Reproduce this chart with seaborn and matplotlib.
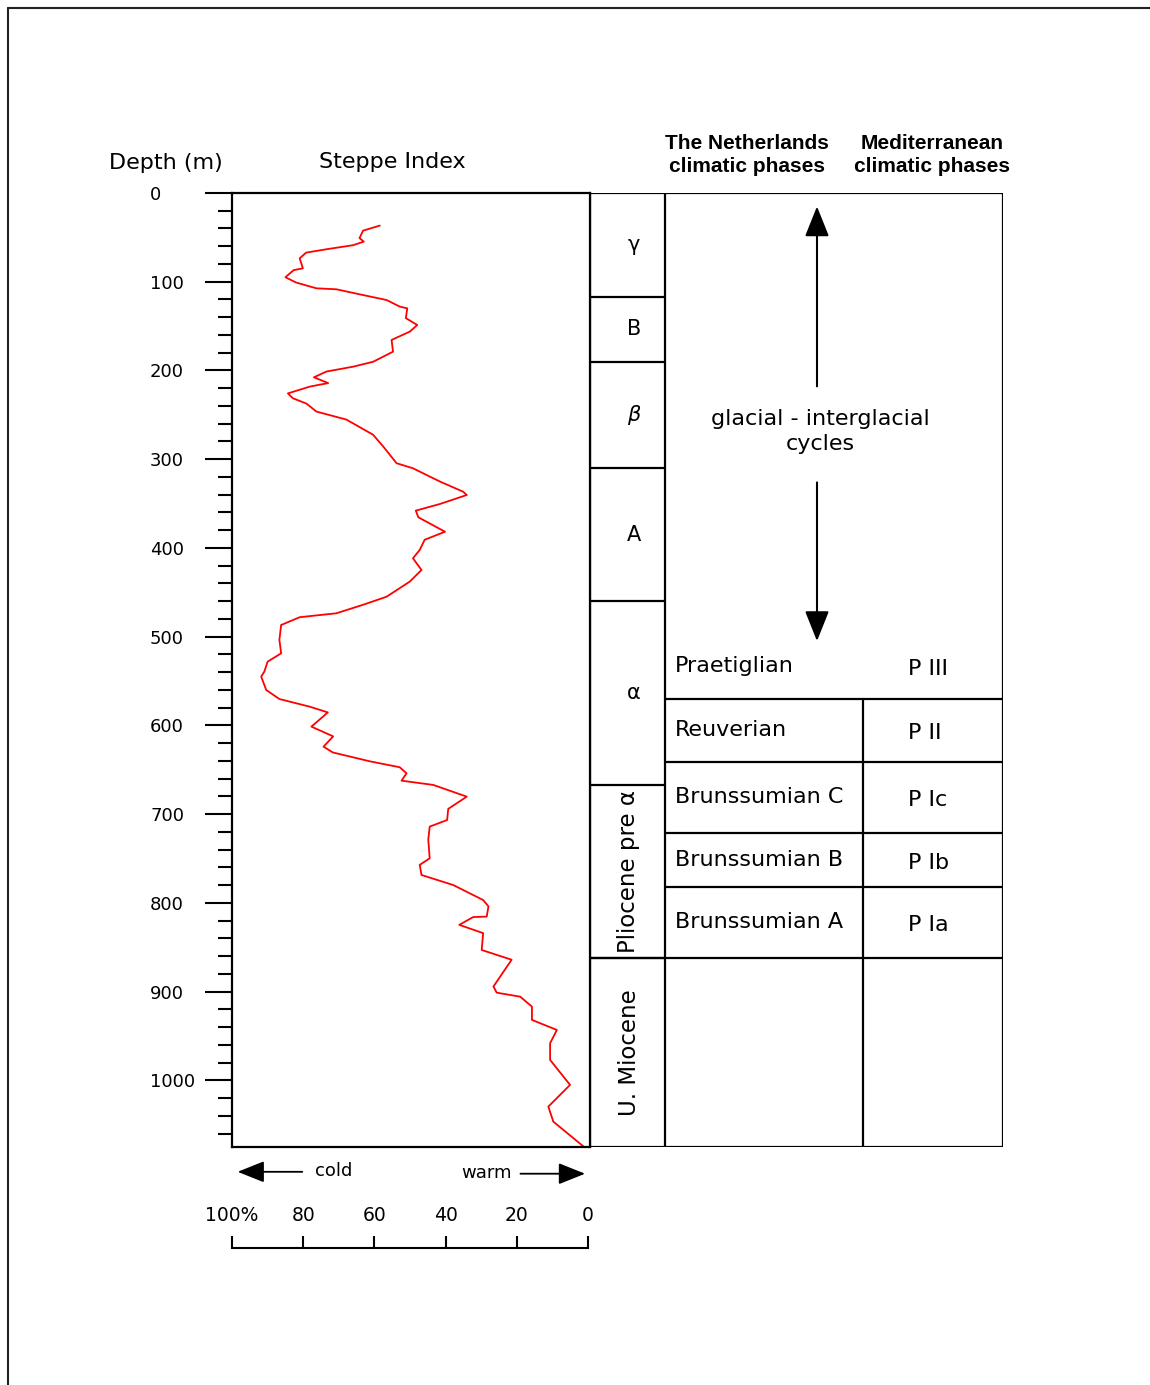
import matplotlib
matplotlib.use("Agg")
import matplotlib.pyplot as plt
from matplotlib.lines import Line2D
import seaborn as sns
import numpy as np

# steppe index (%) against depth (m)
steppe = [58.5, 63.2, 64.2, 63.0, 66.0, 73.5, 79.2, 81.0, 80.1, 82.7,
          85.0, 82.0, 76.3, 70.7, 63.2, 56.6, 52.9, 50.8, 51.2, 48.0,
          50.0, 55.2, 54.8, 60.4, 66.0, 73.5, 77.0, 73.0, 78.2, 84.3,
          82.9, 79.1, 76.3, 67.9, 60.4, 57.6, 53.8, 49.2, 41.6, 35.1,
          34.1, 41.6, 48.4, 47.7, 40.2, 45.9, 47.3, 49.2, 46.8, 50.1,
          56.6, 63.2, 70.7, 81.0, 86.2, 86.7, 86.2, 90.0, 90.9, 91.8,
          90.4, 86.7, 78.2, 73.1, 77.7, 71.6, 74.3, 71.7, 61.3, 52.9,
          51.0, 52.4, 43.5, 34.1, 39.3, 39.6, 44.5, 44.9, 44.5, 47.3,
          46.8, 37.9, 29.5, 28.0, 28.5, 32.3, 36.2, 29.5, 29.9, 21.5,
          26.6, 25.7, 19.1, 15.8, 15.8, 8.8, 10.7, 10.7, 5.1, 11.2,
          9.8, 1.3]
depth = [36.7, 42.4, 50.8, 54.8, 58.8, 63.4, 67.2, 73.6, 84.9, 86.9,
         94.9, 100.9, 107.4, 108.5, 115.0, 120.6, 128.0, 130.0, 141.0, 148.7,
         156.0, 165.6, 178.8, 190.2, 195.7, 201.2, 207.7, 214.2, 218.2, 225.8,
         231.3, 237.3, 246.3, 255.3, 272.4, 285.4, 304.5, 310.2, 325.2, 336.6,
         340.3, 350.4, 357.9, 365.4, 381.7, 390.7, 402.2, 411.6, 424.8, 437.9,
         454.9, 464.0, 473.6, 478.0, 486.8, 503.6, 518.7, 528.1, 539.1, 545.0,
         560.0, 570.2, 578.8, 585.3, 601.3, 612.3, 623.9, 630.4, 640.4, 647.1,
         653.9, 662.2, 667.0, 680.2, 694.0, 706.5, 714.0, 728.7, 749.7, 757.1,
         768.5, 779.8, 796.7, 803.9, 815.4, 815.9, 824.7, 834.0, 853.0, 864.0,
         894.1, 901.1, 905.6, 916.8, 931.8, 943.1, 958.1, 976.9, 1005.0, 1029.5,
         1046.4, 1074.5]

max_depth = 1075

# pollen zones (first column)
zones = ["γ", "B", "β", "A", "α", "Pliocene pre α", "U. Miocene"]
zone_bounds = [0, 117, 190, 310, 460, 667, 862, max_depth]

# climatic phases
nl_phases = ["Praetiglian", "Reuverian", "Brunssumian C", "Brunssumian B", "Brunssumian A"]
med_phases = ["P III", "P II", "P Ic", "P Ib", "P Ia"]
phase_bounds = [496, 570, 641, 721, 782, 862]

depth_ticks = list(range(0, 1001, 100))
scale_ticks = [100, 80, 60, 40, 20, 0]
scale_labels = ["100%", "80", "60", "40", "20", "0"]

W, H = 1150, 1385
sns.set_style("ticks")
plt.rcParams["font.family"] = ["DejaVu Sans"]
plt.rcParams["text.color"] = "black"
plt.rcParams["xtick.color"] = "black"
plt.rcParams["ytick.color"] = "black"


def fx(px):
    return px / W


def fy(py):
    return 1 - py / H


fig = plt.figure(figsize=(W / 100, H / 100), dpi=100)
fig.patch.set_facecolor("white")

# page frame (top and left edges)
fig.add_artist(Line2D([fx(8), 1.0], [fy(8), fy(8)], color="#222222", lw=1.5))
fig.add_artist(Line2D([fx(8), fx(8)], [fy(8), 0.0], color="#222222", lw=1.5))

# --- steppe index curve ---
ax = fig.add_axes([fx(232), fy(1147), (590 - 232) / W, (1147 - 193) / H])
sns.lineplot(x=steppe, y=depth, sort=False, estimator=None, color="red",
             lw=1.3, ax=ax)
ax.set_xlim(100, -0.5)
ax.set_ylim(max_depth, 0)
ax.set_xticks([])
ax.set_yticks(depth_ticks)
ax.set_yticks(np.arange(0, max_depth, 20), minor=True)
ax.tick_params(axis="y", which="major", length=19.5, width=1.5,
               labelsize=13, pad=39.5, color="black", labelcolor="black")
ax.tick_params(axis="y", which="minor", length=10, width=1.5, color="black")
for lab in ax.get_yticklabels():
    lab.set_horizontalalignment("left")
for sp in ax.spines.values():
    sp.set_visible(True)
    sp.set_color("black")
    sp.set_linewidth(1.6)
ax.set_xlabel("")
ax.set_ylabel("")

head = "-|>,head_length=0.55,head_width=0.22"

# cold / warm arrows
ax.annotate("", xy=(0.008, -0.026), xytext=(0.204, -0.026),
            xycoords="axes fraction",
            arrowprops=dict(arrowstyle=head, color="black", lw=1.3,
                            mutation_scale=30))
ax.annotate("", xy=(0.994, -0.028), xytext=(0.798, -0.028),
            xycoords="axes fraction",
            arrowprops=dict(arrowstyle=head, color="black", lw=1.3,
                            mutation_scale=30))
ax.text(0.285, -0.025, "cold", transform=ax.transAxes, ha="center",
        va="center", fontsize=13)
ax.text(0.710, -0.027, "warm", transform=ax.transAxes, ha="center",
        va="center", fontsize=13)

# --- percentage scale ---
ax3 = fig.add_axes([fx(232), fy(1248), 356 / W, 12 / H])
ax3.set_xlim(100, 0)
ax3.set_ylim(0, 1)
ax3.set_yticks([])
ax3.set_xticks(scale_ticks)
ax3.set_xticklabels(scale_labels)
ax3.tick_params(axis="x", bottom=True, top=False, labelbottom=False,
                labeltop=True, direction="in", length=8.6, width=1.5,
                labelsize=13.5, pad=8, color="black", labelcolor="black")
for name, sp in ax3.spines.items():
    sp.set_visible(name == "bottom")
ax3.spines["bottom"].set_color("black")
ax3.spines["bottom"].set_linewidth(1.5)
ax3.patch.set_alpha(0)

# --- zones / climatic phases table ---
ax2 = fig.add_axes([fx(590), fy(1147), (1003 - 590) / W, (1147 - 193) / H])
ax2.set_xlim(0, 413)
ax2.set_ylim(max_depth, 0)
ax2.axis("off")
lk = dict(color="black", lw=1.6)
c1, c2, c3 = 75, 273, 413
ax2.plot([0, c3], [0, 0], **lk)
ax2.plot([0, c3], [max_depth, max_depth], **lk)
ax2.plot([0, 0], [0, max_depth], **lk)
ax2.plot([c1, c1], [0, max_depth], **lk)
ax2.plot([c3, c3], [0, max_depth], **lk)
ax2.plot([c2, c2], [phase_bounds[1], max_depth], **lk)
ax2.hlines(zone_bounds[1:-1], 0, c1, **lk)
ax2.hlines(phase_bounds[1:], c1, c3, **lk)
ax2.plot([0, c1], [phase_bounds[-1], phase_bounds[-1]], **lk)

for i, z in enumerate(zones):
    mid = (zone_bounds[i] + zone_bounds[i + 1]) / 2
    if len(z) > 1:
        ax2.text(39, mid, z, rotation=90, ha="center", va="center",
                 fontsize=16.5)
    else:
        ax2.text(44, mid, z, ha="center", va="center", fontsize=15,
                 style="italic" if z == "β" else "normal")

for i, (nl, med) in enumerate(zip(nl_phases, med_phases)):
    mid = (phase_bounds[i] + phase_bounds[i + 1]) / 2
    ax2.text(85, mid, nl, ha="left", va="center", fontsize=16)
    ax2.text(318, mid + 3, med, ha="left", va="center", fontsize=16)

ax2.text(230, 269, "glacial - interglacial\ncycles", ha="center",
         va="center", fontsize=16, linespacing=1.3)
ax2.annotate("", xy=(227, 12), xytext=(227, 221),
             arrowprops=dict(arrowstyle=head, color="black", lw=1.5,
                             mutation_scale=34))
ax2.annotate("", xy=(227, 508), xytext=(227, 323),
             arrowprops=dict(arrowstyle=head, color="black", lw=1.5,
                             mutation_scale=34))

# --- column headers ---
fig.text(fx(166), fy(163), "Depth (m)", ha="center", va="center", fontsize=16)
fig.text(fx(392), fy(162), "Steppe Index", ha="center", va="center", fontsize=16)
hdr = dict(ha="center", va="center", fontsize=15, fontweight="bold",
           family=["Liberation Sans", "DejaVu Sans"], linespacing=1.3)
fig.text(fx(747), fy(155), "The Netherlands\nclimatic phases", **hdr)
fig.text(fx(932), fy(155), "Mediterranean\nclimatic phases", **hdr)

fig.savefig("out.png", dpi=100, facecolor="white")
